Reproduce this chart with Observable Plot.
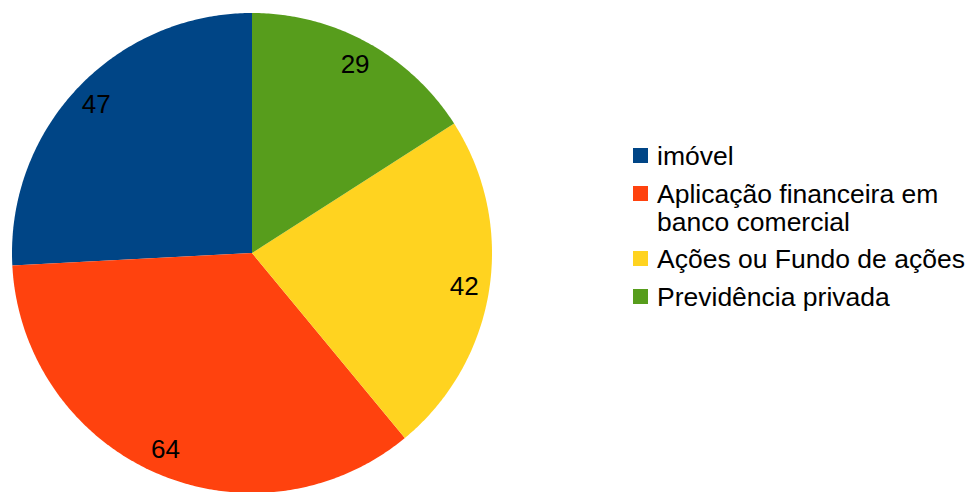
<!DOCTYPE html>
<html>
<head>
<meta charset="utf-8">
<script src="https://cdn.jsdelivr.net/npm/d3@7"></script>
<script src="https://cdn.jsdelivr.net/npm/@observablehq/plot@0.6"></script>
<style>
  html, body { margin: 0; padding: 0; background: #fff; }
  #wrap { position: relative; width: 972px; height: 492px; font-family: "Liberation Sans", Arial, sans-serif; }
  #chart svg { display: block; }
  #legend { position: absolute; left: 633px; top: 142px; font-size: 26.5px; color: #000; line-height: 28px; white-space: nowrap; }
  .item { display: flex; align-items: flex-start; margin-bottom: 9.5px; }
  .sw { width: 15px; height: 15px; flex: none; margin-top: 6px; margin-right: 9px; }
</style>
</head>
<body>
<div id="wrap"><div id="chart"></div><div id="legend"></div></div>
<script>
const categories = ["imóvel", "Aplicação financeira em banco comercial", "Ações ou Fundo de ações", "Previdência privada"];
const legendLines = [["imóvel"], ["Aplicação financeira em", "banco comercial"], ["Ações ou Fundo de ações"], ["Previdência privada"]];
const values = [47, 64, 42, 29];
const colors = ["#004586", "#ff420e", "#ffd320", "#579d1c"];

const total = d3.sum(values);
const slices = [];
const labels = [];
let acc = 0;
categories.forEach((name, i) => {
  const a0 = acc / total * 2 * Math.PI;
  acc += values[i];
  const a1 = acc / total * 2 * Math.PI;
  const n = Math.max(2, Math.ceil((a1 - a0) / 0.01));
  slices.push({name, x: 0, y: 0});
  for (let k = 0; k <= n; k++) {
    const a = a0 + (a1 - a0) * k / n;
    slices.push({name, x: -Math.sin(a), y: Math.cos(a)});
  }
  const am = (a0 + a1) / 2;
  labels.push({name, value: values[i], x: -0.895 * Math.sin(am), y: 0.895 * Math.cos(am)});
});

const chart = Plot.plot({
  width: 972,
  height: 492,
  margin: 0,
  x: {domain: [-1, 1], range: [11.5, 491.5], axis: null},
  y: {domain: [-1, 1], range: [492.5, 12.5], axis: null},
  color: {domain: categories, range: colors},
  style: {fontFamily: "Liberation Sans, Arial, sans-serif", background: "#fff"},
  marks: [
    Plot.line(slices, {x: "x", y: "y", z: "name", fill: "name", stroke: null, curve: "linear"}),
    Plot.text(labels, {x: "x", y: "y", text: d => String(d.value), fontSize: 26, fill: "#000"})
  ]
});
document.getElementById("chart").appendChild(chart);

const legend = document.getElementById("legend");
categories.forEach((name, i) => {
  const item = document.createElement("div");
  item.className = "item";
  const sw = document.createElement("div");
  sw.className = "sw";
  sw.style.background = colors[i];
  const t = document.createElement("div");
  t.innerHTML = legendLines[i].join("<br>");
  item.appendChild(sw);
  item.appendChild(t);
  legend.appendChild(item);
});
</script>
</body>
</html>
